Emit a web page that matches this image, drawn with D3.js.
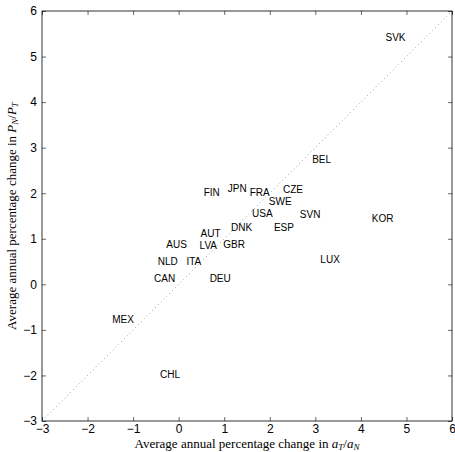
<!DOCTYPE html>
<html>
<head>
<meta charset="utf-8">
<script src="https://cdn.jsdelivr.net/npm/d3@7"></script>
<style>
  body { margin: 0; background: #fff; }
  svg { display: block; }
  .tick text { font-family: "Liberation Sans", Arial, sans-serif; font-size: 12px; fill: #000; }
  .lbl { font-family: "Liberation Sans", Arial, sans-serif; font-size: 10px; fill: #000; }
  .axtitle { font-family: "Liberation Serif", "DejaVu Serif", serif; font-size: 13px; fill: #000; }
</style>
</head>
<body>
<svg width="455" height="452"></svg>
<script>
// country codes and their positions (label anchor points)
const countries = ['SVK', 'BEL', 'FIN', 'JPN', 'FRA', 'CZE', 'SWE', 'USA', 'SVN', 'KOR', 'DNK', 'ESP',
	'AUT', 'AUS', 'LVA', 'GBR', 'LUX', 'NLD', 'ITA', 'CAN', 'DEU', 'MEX', 'CHL']
const xValues = [4.54, 2.93, 0.55, 1.08, 1.56, 2.29, 1.98, 1.61, 2.66, 4.24, 1.15, 2.09,
	0.48, -0.27, 0.46, 0.98, 3.11, -0.46, 0.17, -0.54, 0.68, -1.46, -0.41]
const yValues = [5.43, 2.74, 2.01, 2.10, 2.01, 2.08, 1.82, 1.55, 1.53, 1.45, 1.26, 1.26,
	1.12, 0.87, 0.86, 0.87, 0.54, 0.50, 0.50, 0.14, 0.14, -0.78, -1.98]
const xTicks = [-3, -2, -1, 0, 1, 2, 3, 4, 5, 6]
const yTicks = [-3, -2, -1, 0, 1, 2, 3, 4, 5, 6]

const margin = { top: 11, right: 3, bottom: 31, left: 42 }
const svg = d3.select('svg')
const W = 455 - margin.left - margin.right
const H = 452 - margin.top - margin.bottom
const g = svg.append('g').attr('transform', `translate(${[margin.left, margin.top]})`)

const x = d3.scaleLinear().domain([-3, 6]).range([0, W])
const y = d3.scaleLinear().domain([-3, 6]).range([H, 0])

const fmt = d => d < 0 ? '\u2212' + Math.abs(d) : '' + d

// 45 degree reference line
g.append('line')
	.attr('x1', x(-3)).attr('y1', y(-3))
	.attr('x2', x(6)).attr('y2', y(6))
	.attr('stroke', '#888')
	.attr('stroke-width', 0.8)
	.attr('stroke-dasharray', '1,3')

// axes, ticks pointing inward on all four sides
const tl = 4
g.append('g').attr('transform', `translate(0,${H})`)
	.call(d3.axisBottom(x).tickValues(xTicks).tickFormat(fmt).tickSizeInner(-tl).tickSizeOuter(0).tickPadding(3))
g.append('g')
	.call(d3.axisLeft(y).tickValues(yTicks).tickFormat(fmt).tickSizeInner(-tl).tickSizeOuter(0).tickPadding(5))
g.append('g')
	.call(d3.axisTop(x).tickValues(xTicks).tickFormat('').tickSizeInner(-tl).tickSizeOuter(0))
g.append('g').attr('transform', `translate(${W},0)`)
	.call(d3.axisRight(y).tickValues(yTicks).tickFormat('').tickSizeInner(-tl).tickSizeOuter(0))
g.selectAll('.domain').remove()
g.selectAll('.tick line').attr('stroke', '#000').attr('stroke-width', 0.6)

g.append('rect')
	.attr('width', W).attr('height', H)
	.attr('fill', 'none').attr('stroke', '#000').attr('stroke-width', 0.8)

// country labels
g.selectAll('text.lbl')
	.data(countries)
	.enter()
	.append('text')
	.attr('class', 'lbl')
	.attr('x', (d, i) => x(xValues[i]))
	.attr('y', (d, i) => y(yValues[i]))
	.attr('dy', '0.36em')
	.text(d => d)

// axis titles
const xt = svg.append('text').attr('class', 'axtitle')
	.attr('text-anchor', 'middle')
	.attr('x', margin.left + W / 2).attr('y', 448)
xt.append('tspan').text('Average annual percentage change in ')
xt.append('tspan').attr('font-style', 'italic').text('a')
xt.append('tspan').attr('font-style', 'italic').attr('font-size', '9px').attr('dy', 2).text('T')
xt.append('tspan').attr('dy', -2).text('/')
xt.append('tspan').attr('font-style', 'italic').text('a')
xt.append('tspan').attr('font-style', 'italic').attr('font-size', '9px').attr('dy', 2).text('N')

const yt = svg.append('text').attr('class', 'axtitle')
	.attr('text-anchor', 'middle')
	.attr('transform', `translate(${[16, margin.top + H / 2]}) rotate(-90)`)
yt.append('tspan').text('Average annual percentage change in ')
yt.append('tspan').attr('font-style', 'italic').text('P')
yt.append('tspan').attr('font-style', 'italic').attr('font-size', '9px').attr('dy', 2).text('N')
yt.append('tspan').attr('dy', -2).text('/')
yt.append('tspan').attr('font-style', 'italic').text('P')
yt.append('tspan').attr('font-style', 'italic').attr('font-size', '9px').attr('dy', 2).text('T')
</script>
</body>
</html>
